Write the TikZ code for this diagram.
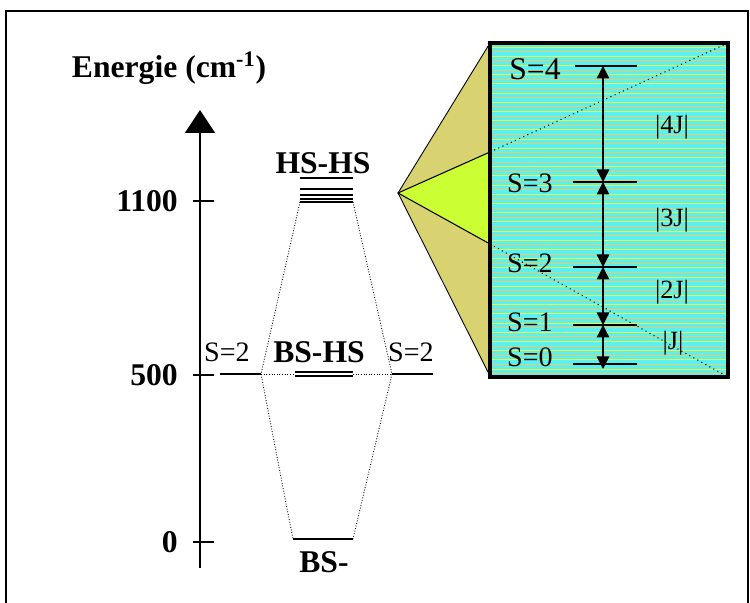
\documentclass[tikz,border=0pt]{standalone}
\usepackage{fontspec}
\setmainfont{Liberation Serif}
\usetikzlibrary{arrows.meta}

\definecolor{wedgetan}{RGB}{216,210,112}
\definecolor{wedgelime}{RGB}{204,255,51}
\definecolor{boxcyan}{RGB}{92,240,240}
\definecolor{stripeyel}{RGB}{235,250,60}
\definecolor{stripeora}{RGB}{240,200,100}

\begin{document}
\begin{tikzpicture}[x=0.2mm, y=-0.2mm,
    big/.style={font=\fontsize{18}{20}\selectfont\bfseries},
    spin/.style={font=\fontsize{16}{18}\selectfont},
    gap/.style={font=\fontsize{15}{17}\selectfont},
    lvl/.style={line width=1.3pt},
    link/.style={densely dotted, line width=0.5pt},
    dbl/.style={{Triangle[length=2.5mm,width=2.5mm]}-{Triangle[length=2.5mm,width=2.5mm]}, line width=0.8pt}]
  \useasboundingbox (0,0) rectangle (750,603);
  \draw[line width=1pt] (6,603) -- (6,11) -- (748,11) -- (748,603);

  % energy axis
  \node[big] (title) at (169,68) {Energie (cm\textsuperscript{-1})};
  \coordinate (a0) at (200,568);
  \coordinate (a1) at (200,110);
  \draw[line width=0.8pt, -{Triangle[length=4.6mm,width=6mm]}] (a0) -- (a1);
  \foreach \y/\v in {201/1100, 375/500, 542/0} {
    \draw[line width=0.8pt] (193,\y) -- (214,\y);
    \node[big, anchor=east] (t\v) at (184,\y) {\v};
  }

  % levels
  \coordinate (bsL) at (293,539);
  \coordinate (bsR) at (353,539);
  \draw[line width=1pt] (bsL) -- (bsR);
  \node[big] (bs) at (324,562) {BS-};

  \coordinate (bhL) at (295,374);
  \coordinate (bhR) at (353,374);
  \draw[line width=0.9pt] (295,372) -- (353,372) (295,376) -- (353,376);
  \node[big] (bh) at (319,352) {BS-HS};

  \coordinate (hsL) at (300,202);
  \coordinate (hsR) at (353,202);
  \foreach \y in {178,189,195,199,202}
    \draw[line width=1pt] (300,\y) -- (353,\y);
  \node[big] (hh) at (323,163) {HS-HS};

  \coordinate (sL) at (261,374);
  \coordinate (sR) at (392,374);
  \draw[lvl] (220,374) -- (sL);
  \draw[lvl] (sR) -- (433,374);
  \node[spin] (s2L) at (227,352) {S=2};
  \node[spin] (s2R) at (411,352) {S=2};

  \draw[link] (hsL) -- (sL) -- (bsL);
  \draw[link] (hsR) -- (sR) -- (bsR);
  \draw[link] (sL) -- (bhL);
  \draw[link] (bhR) -- (sR);

  % zoom wedge
  \coordinate (apex) at (398,193);
  \filldraw[fill=wedgetan, draw=black, line width=0.5pt] (apex) -- (490,43) -- (490,376) -- cycle;
  \filldraw[fill=wedgelime, draw=black, line width=0.6pt] (apex) -- (490,152) -- (490,244) -- cycle;

  % zoomed box
  \fill[boxcyan] (490,43) rectangle (728,377);
  \foreach \i in {0,...,71} {
    \pgfmathsetmacro{\yy}{47+\i*4.6}
    \ifodd\i
      \draw[stripeora, line width=0.5pt] (492,\yy) -- (726,\yy);
    \else
      \draw[stripeyel, line width=0.5pt] (492,\yy) -- (726,\yy);
    \fi
  }
  \draw[dotted, line width=0.6pt] (490,152) -- (728,43);
  \draw[dotted, line width=0.6pt] (490,244) -- (728,377);
  \draw[line width=2.2pt] (490,43) rectangle (728,377);

  \foreach \s/\y/\ly in {3/182/183, 2/267/263, 1/325/322, 0/364/357} {
    \coordinate (l\s) at (603,\y);
    \draw[lvl] (573,\y) -- (637,\y);
    \node[spin] (sp\s) at (530,\ly) {S=\s};
  }
  \coordinate (l4) at (603,66);
  \draw[lvl] (575,66) -- (637,66);
  \node[spin, font=\fontsize{18}{20}\selectfont] (sp4) at (535,69) {S=4};
  \coordinate (lb) at (603,369);
  \draw[dbl] (l4) -- (l3);
  \draw[dbl] (l3) -- (l2);
  \draw[dbl] (l2) -- (l1);
  \draw[dbl] (l1) -- (lb);

  \node[gap] (g4) at (672,127) {|4J|};
  \node[gap] (g3) at (672,220) {|3J|};
  \node[gap] (g2) at (672,292) {|2J|};
  \node[gap] (g1) at (673,343) {|J|};
\end{tikzpicture}
\end{document}
